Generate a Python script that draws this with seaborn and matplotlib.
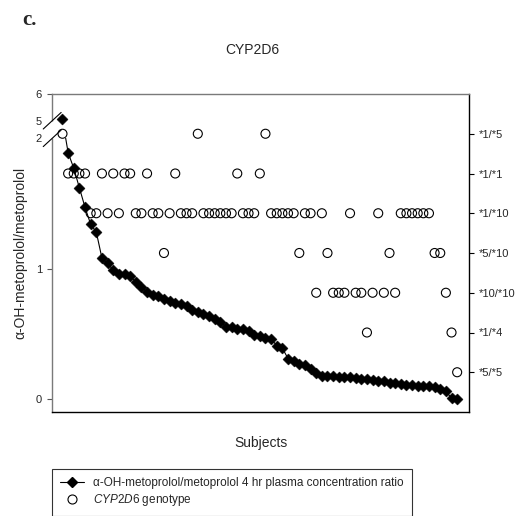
import numpy as np
import pandas as pd
import matplotlib
matplotlib.use("Agg")
import matplotlib.pyplot as plt
import seaborn as sns
from matplotlib.lines import Line2D
from matplotlib.path import Path

# metabolic ratio per subject, sorted high -> low
ratio = [5.05, 1.89, 1.77, 1.62, 1.47, 1.34, 1.28, 1.08, 1.04, 0.99,
         0.96, 0.96, 0.94, 0.90, 0.86, 0.82, 0.80, 0.79, 0.77, 0.75,
         0.74, 0.73, 0.71, 0.68, 0.67, 0.65, 0.64, 0.61, 0.59, 0.555,
         0.55, 0.54, 0.535, 0.52, 0.49, 0.48, 0.47, 0.46, 0.41, 0.39,
         0.31, 0.29, 0.27, 0.26, 0.23, 0.20, 0.18, 0.18, 0.175, 0.17,
         0.17, 0.165, 0.16, 0.155, 0.15, 0.145, 0.14, 0.135, 0.125, 0.12,
         0.115, 0.11, 0.105, 0.10, 0.10, 0.10, 0.09, 0.08, 0.06, 0.005,
         0.0]

# CYP2D6 genotype of each subject, same order
genotype = ['*1/*5', '*1/*1', '*1/*1', '*1/*1', '*1/*1', '*1/*10', '*1/*10', '*1/*1', '*1/*10', '*1/*1',
            '*1/*10', '*1/*1', '*1/*1', '*1/*10', '*1/*10', '*1/*1', '*1/*10', '*1/*10', '*5/*10', '*1/*10',
            '*1/*1', '*1/*10', '*1/*10', '*1/*10', '*1/*5', '*1/*10', '*1/*10', '*1/*10', '*1/*10', '*1/*10',
            '*1/*10', '*1/*1', '*1/*10', '*1/*10', '*1/*10', '*1/*1', '*1/*5', '*1/*10', '*1/*10', '*1/*10',
            '*1/*10', '*1/*10', '*5/*10', '*1/*10', '*1/*10', '*10/*10', '*1/*10', '*5/*10', '*10/*10', '*10/*10',
            '*10/*10', '*1/*10', '*10/*10', '*10/*10', '*1/*4', '*10/*10', '*1/*10', '*10/*10', '*5/*10', '*10/*10',
            '*1/*10', '*1/*10', '*1/*10', '*1/*10', '*1/*10', '*1/*10', '*5/*10', '*5/*10', '*10/*10', '*1/*4',
            '*5/*5']

# right axis order, bottom -> top
genotype_order = ['*5/*5', '*1/*4', '*10/*10', '*5/*10', '*1/*10', '*1/*1', '*1/*5']

left_ticks = [0, 1, 6]
break_ticks = [2, 5]

df = pd.DataFrame({'subject': np.arange(len(ratio)), 'ratio': ratio, 'genotype': genotype})
df['gcode'] = df['genotype'].map({g: i + 1 for i, g in enumerate(genotype_order)})


# broken y axis: linear 0-2, squeezed 2-5, compressed 5-6
def fwd(y):
    y = np.asarray(y, dtype=float)
    return np.where(y <= 2, y, np.where(y <= 5, 2 + (y - 2) * 0.045, 2.135 + (y - 5) * 0.205))


def inv(t):
    t = np.asarray(t, dtype=float)
    return np.where(t <= 2, t, np.where(t <= 2.135, 2 + (t - 2) / 0.045, 5 + (t - 2.135) / 0.205))


sns.set_style('white')
plt.rcParams['font.family'] = ['Liberation Sans', 'DejaVu Sans']
plt.rcParams['mathtext.fontset'] = 'custom'
plt.rcParams['mathtext.it'] = 'Liberation Sans:italic'
plt.rcParams['mathtext.rm'] = 'Liberation Sans'

W, H = 519, 516
fig = plt.figure(figsize=(W / 100, H / 100), dpi=100)
ax = fig.add_axes([52 / W, 1 - 412 / H, 417 / W, 318 / H])
ax2 = ax.twinx()
ax.set_zorder(ax2.get_zorder() + 1)
ax.patch.set_visible(False)

# genotype circles on the right axis
sns.scatterplot(data=df, x='subject', y='gcode', marker='o', s=42, facecolor='none',
                edgecolor='black', linewidth=0.8, ax=ax2, legend=False)
ax2.set_ylim(0, 8)
ax2.set_yticks(range(1, 8), labels=genotype_order)
ax2.set_ylabel('')

# ratio line + diamonds on the left axis
ax.set_yscale('function', functions=(fwd, inv))
sns.lineplot(data=df, x='subject', y='ratio', color='black', linewidth=0.8,
             errorbar=None, ax=ax, zorder=2)
sns.scatterplot(data=df, x='subject', y='ratio', marker='D', s=32, color='black',
                edgecolor='black', linewidth=0.3, ax=ax, zorder=3, legend=False)

xlo, xhi = -1.86, 72.1
ax.set_xlim(xlo, xhi)
ax.set_ylim(-0.1, 6)

# hide the line inside the axis break
line = ax.lines[0]
mv, lt, cp = Path.MOVETO, Path.LINETO, Path.CLOSEPOLY
clip = Path([(xlo, -0.1), (xhi, -0.1), (xhi, 2), (xlo, 2), (xlo, -0.1),
             (xlo, 5), (xhi, 5), (xhi, 6), (xlo, 6), (xlo, 5)],
            [mv, lt, lt, lt, cp, mv, lt, lt, lt, cp])
line.set_clip_path(clip, ax.transData)

ax.set_yticks(left_ticks, labels=[str(t) for t in left_ticks])
ax.set_yticks(break_ticks, labels=[str(t) for t in break_ticks], minor=True)
ax.tick_params(axis='y', which='major', direction='out', length=3.6, width=0.8,
               color='#555555', pad=3.6, labelsize=8, left=True)
ax.tick_params(axis='y', which='minor', length=0, pad=7.2, labelsize=8, left=True)
ax2.tick_params(axis='y', direction='out', length=3.6, width=0.8, color='black',
                pad=3.6, labelsize=8, right=True)

ax.set_xticks(np.arange(-1, 71, 10), labels=[])
ax.tick_params(axis='x', direction='inout', length=3, width=1, color='white', bottom=True)
ax2.tick_params(axis='x', bottom=False, top=False)

for name, sp in ax.spines.items():
    sp.set_linewidth(1.0)
ax.spines['left'].set_color('#7a7a7a')
ax.spines['top'].set_color('#7a7a7a')
ax.spines['bottom'].set_color('black')
ax.spines['right'].set_visible(False)
for name, sp in ax2.spines.items():
    sp.set_visible(name == 'right')
ax2.spines['right'].set_color('black')
ax2.spines['right'].set_linewidth(1.0)

ax.set_xlabel('Subjects', fontsize=10, labelpad=12.5)
ax.set_ylabel('α-OH-metoprolol/metoprolol', fontsize=10)
ax.yaxis.set_label_coords(-0.058, 0.5)

# axis break marks
fig.canvas.draw()
to_ax = ax.transAxes.inverted()
y2 = to_ax.transform(ax.transData.transform((0, 2)))[1]
y5 = to_ax.transform(ax.transData.transform((0, 5)))[1]
ax.plot([0, 0], [y2, y5], transform=ax.transAxes, color='white', lw=2.5,
        clip_on=False, zorder=5, solid_capstyle='butt')
for yb in (y2, y5):
    ax.plot([-0.021, 0.022], [yb - 0.026, yb + 0.026], transform=ax.transAxes,
            color='black', lw=0.8, clip_on=False, zorder=6)

fig.text(22 / W, 1 - 25 / H, 'c.', fontsize=15, fontweight='bold',
         family=['Liberation Serif', 'DejaVu Serif'], ha='left', va='baseline')
fig.text(252 / W, 1 - 50 / H, 'CYP2D6', fontsize=10, ha='center', va='center')

handles = [Line2D([], [], color='black', lw=0.8, marker='D', markersize=5),
           Line2D([], [], color='black', lw=0, marker='o', markersize=6.5,
                  markerfacecolor='none', markeredgewidth=0.8)]
labels = ['α-OH-metoprolol/metoprolol 4 hr plasma concentration ratio',
          r'$\it{CYP2D6}$ genotype']
leg = fig.legend(handles, labels, loc='upper left', bbox_to_anchor=(52 / W, 1 - 469 / H),
                 bbox_transform=fig.transFigure, borderaxespad=0, fontsize=8.5,
                 frameon=True, fancybox=False, edgecolor='black', handlelength=2.0,
                 handletextpad=0.8, labelspacing=0.25, borderpad=0.7)
leg.get_frame().set_linewidth(0.8)

fig.savefig('out.png', dpi=100)
